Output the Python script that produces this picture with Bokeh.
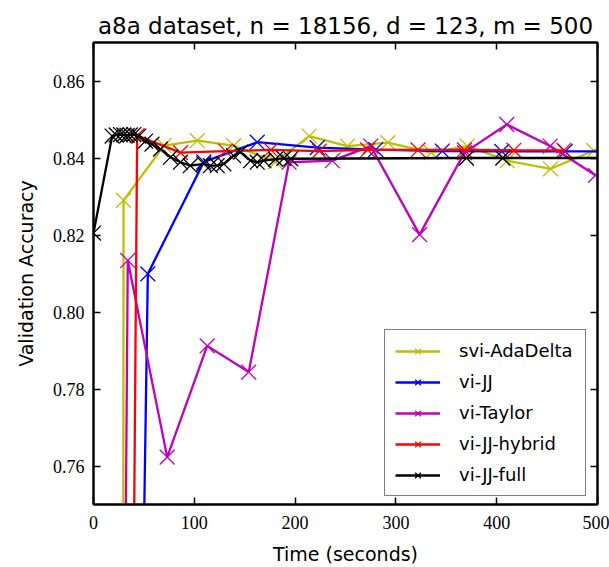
from bokeh.plotting import figure
from bokeh.models import Range1d, LinearAxis, FixedTicker, PrintfTickFormatter
from bokeh.embed import file_html
from bokeh.resources import INLINE

# ---- data ----
labels = ["svi-AdaDelta", "vi-JJ", "vi-Taylor", "vi-JJ-hybrid", "vi-JJ-full"]
colors = ["#bfbf00", "#0000ff", "#bf00bf", "#ff0000", "#000000"]

ada_t = [29, 29.8, 70, 103, 139, 180.6, 214, 252, 292, 335, 370.7, 410.4, 453.4, 496.3]
ada_acc = [0.50, 0.8290, 0.8432, 0.8445, 0.8432, 0.8390, 0.8457, 0.8431, 0.8440, 0.8414,
           0.8431, 0.8393, 0.8372, 0.8419]

jj_t = [36, 53.9, 109.5, 162.4, 222, 280, 346, 405, 468, 530]
jj_acc = [0.50, 0.8099, 0.8390, 0.8441, 0.8427, 0.8422, 0.8418, 0.8417, 0.8417, 0.8417]

taylor_t = [25, 34, 73.1, 112.8, 154, 194, 237, 275, 323.5, 368, 410, 453, 498]
taylor_acc = [0.50, 0.8134, 0.7623, 0.7912, 0.7844, 0.8389, 0.8393, 0.8431, 0.8201, 0.8414,
              0.8487, 0.8431, 0.8355]

hybrid_t = [33, 43.3, 86.3, 131, 176, 224, 272, 322, 368, 417, 466.6]
hybrid_acc = [0.50, 0.8458, 0.8414, 0.8418, 0.8421, 0.8418, 0.8421, 0.8421, 0.8421, 0.8420, 0.8420]

full_t = [0, 18.5, 22.5, 26.8, 30, 33.4, 36.5, 40, 45, 51.6, 58, 66.5, 76.4, 86.3, 96,
          109.4, 116, 122.7, 129.3, 139, 145.8, 155.8, 162.4, 169, 180.6, 188.8, 195.7,
          370, 406, 530]
full_acc = [0.8205, 0.8457, 0.8460, 0.8461, 0.8460, 0.8459, 0.8460, 0.8461, 0.8457, 0.8444,
            0.8436, 0.8423, 0.8402, 0.8389, 0.8380, 0.8385, 0.8380, 0.8380, 0.8385, 0.8406,
            0.8415, 0.8393, 0.8389, 0.8393, 0.8397, 0.8399, 0.8398, 0.8400, 0.8400, 0.8400]

series = [(ada_t, ada_acc), (jj_t, jj_acc), (taylor_t, taylor_acc),
          (hybrid_t, hybrid_acc), (full_t, full_acc)]

x_ticks = [0, 100, 200, 300, 400, 500]
y_ticks = [0.76, 0.78, 0.80, 0.82, 0.84, 0.86]
x_lim = (0, 500)
y_lim = (0.75, 0.87)

# ---- figure ----
p = figure(width=609, height=567, output_backend="svg", toolbar_location=None,
           x_range=Range1d(*x_lim), y_range=Range1d(*y_lim),
           title="a8a dataset, n = 18156, d = 123, m = 500")
p.min_border_left = 93
p.min_border_right = 12
p.min_border_top = 42
p.min_border_bottom = 59
p.background_fill_color = "white"
p.border_fill_color = "white"
p.outline_line_color = "black"
p.outline_line_width = 2
p.grid.visible = False

p.title.text_font = "DejaVu Sans"
p.title.text_font_size = "23px"
p.title.text_font_style = "normal"
p.title.align = "center"
p.title.text_color = "black"
p.title.standoff = 7

SERIF = "Liberation Serif"

def style_axis(ax, ticks, show_labels=True):
    ax.ticker = FixedTicker(ticks=ticks)
    ax.axis_line_width = 2
    ax.axis_line_color = "black"
    ax.major_tick_in = 7
    ax.major_tick_out = 0
    ax.major_tick_line_width = 1.5
    ax.major_tick_line_color = "black"
    ax.minor_tick_in = 0
    ax.minor_tick_out = 0
    ax.minor_tick_line_color = None
    if show_labels:
        ax.axis_label_text_font = "DejaVu Sans"
        ax.axis_label_text_font_size = "19px"
        ax.axis_label_text_font_style = "normal"
        ax.axis_label_text_color = "black"
    else:
        ax.major_label_text_font_size = "0px"
        ax.major_label_standoff = 0
        ax.major_label_text_color = None

style_axis(p.xaxis[0], x_ticks)
style_axis(p.yaxis[0], y_ticks)
p.yaxis[0].formatter = PrintfTickFormatter(format="%.2f")
p.xaxis[0].axis_label = "Time (seconds)"
p.yaxis[0].axis_label = "Validation Accuracy"
p.xaxis[0].major_label_standoff = 11
p.yaxis[0].major_label_standoff = 9
p.xaxis[0].axis_label_standoff = 11
p.yaxis[0].axis_label_standoff = 13

for ax in (p.xaxis[0], p.yaxis[0]):
    ax.major_label_text_font = SERIF
    ax.major_label_text_font_size = "18px"
    ax.major_label_text_color = "black"

top_ax = LinearAxis()
style_axis(top_ax, x_ticks, show_labels=False)
p.add_layout(top_ax, "above")
right_ax = LinearAxis()
style_axis(right_ax, y_ticks, show_labels=False)
p.add_layout(right_ax, "right")

for (t, a), name, col in zip(series, labels, colors):
    p.line(t, a, line_color=col, line_width=2.3, legend_label=name)
    p.scatter(t, a, marker="x", size=21, line_color=col, line_width=1.3, legend_label=name)

lg = p.legend[0]
lg.location = (291, 8)
lg.margin = 0
lg.padding = 10
lg.spacing = 10
lg.glyph_width = 45
lg.glyph_height = 20
lg.label_height = 20
lg.label_width = 116
lg.label_standoff = 19
lg.label_text_font = "DejaVu Sans"
lg.label_text_font_size = "18px"
lg.label_text_color = "black"
lg.border_line_color = "black"
lg.border_line_width = 1.5
lg.background_fill_color = "white"
lg.background_fill_alpha = 1.0

open("out.html", "w").write(file_html(p, INLINE))
